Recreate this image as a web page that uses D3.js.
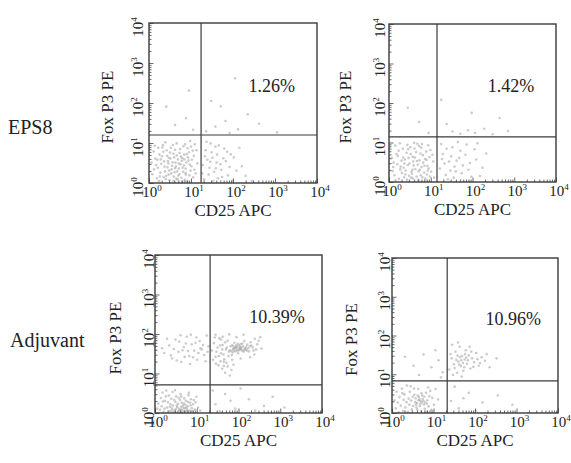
<!DOCTYPE html>
<html>
<head>
<meta charset="utf-8">
<script src="https://cdn.jsdelivr.net/npm/d3@7"></script>
<style>
  body { margin: 0; background: #fff; }
  svg { display: block; }
</style>
</head>
<body>
<div id="chart"></div>
<script>
// Data (log10 units for points, so 0.5 means 10^0.5)
const rowLabels = ["EPS8", "Adjuvant"];
const xTitle = "CD25 APC";
const yTitle = "Fox P3 PE";
const tickExponents = [0, 1, 2, 3, 4];
const percents = ["1.26%", "1.42%", "10.39%", "10.96%"];
const gateX = [1.24, 1.15, 1.32, 1.33];
const gateY = [1.2, 1.14, 0.71, 0.83];

const pointsA = [
  0.12,0.34, 0.25,0.71, 0.41,0.18, 0.56,0.52, 0.68,0.09, 0.83,0.44, 0.95,0.77, 0.33,0.95, 0.47,0.63, 0.61,0.27,
  0.74,0.85, 0.88,0.21, 1.02,0.58, 0.19,0.12, 0.29,0.48, 0.52,0.88, 0.64,0.41, 0.79,0.62, 0.91,0.05, 1.08,0.33,
  0.15,0.61, 0.38,0.29, 0.49,0.07, 0.58,0.73, 0.71,0.36, 0.86,0.97, 0.97,0.46, 1.13,0.82, 0.22,0.88, 0.36,0.54,
  0.44,0.39, 0.59,0.16, 0.69,0.59, 0.81,0.28, 0.93,0.64, 1.05,0.14, 0.08,0.22, 0.27,0.26, 0.42,0.82, 0.54,0.34,
  0.66,0.69, 0.77,0.13, 0.89,0.51, 1.00,0.91, 0.17,0.45, 0.31,0.67, 0.46,0.49, 0.57,0.95, 0.72,0.22, 0.84,0.71,
  0.99,0.31, 1.15,0.49, 0.24,0.05, 0.35,0.15, 0.51,0.61, 0.62,0.83, 0.75,0.47, 0.87,0.36, 0.96,0.19, 0.11,0.79,
  0.39,1.02, 0.53,0.24, 0.65,0.11, 0.78,0.55, 0.92,0.87, 1.07,0.68, 0.21,0.38, 0.34,0.78, 0.48,0.31, 0.63,0.51,
  0.73,0.75, 0.85,0.08, 1.01,0.42, 0.14,0.93, 0.28,0.59, 0.43,0.68, 0.55,0.43, 0.67,0.29, 0.82,0.92, 0.94,0.56,
  1.11,0.24, 0.06,0.51, 0.37,0.41, 0.60,0.64, 0.70,0.18, 0.80,0.38, 0.90,0.72, 1.04,0.81, 0.26,0.17, 0.45,0.55,
  0.58,0.05, 0.76,0.66, 0.98,1.05, 0.32,0.89, 0.50,0.76, 0.66,0.99, 0.87,0.25, 1.09,0.97, 0.20,0.58, 0.40,0.10,
  0.71,0.49, 0.84,0.59, 0.62,0.37, 0.47,0.21, 0.79,0.04,
  1.28,0.45, 1.35,0.82, 1.42,0.21, 1.51,0.63, 1.59,0.37, 1.66,0.94, 1.74,0.15, 1.83,0.55, 1.95,0.72, 2.08,0.31,
  1.31,0.09, 1.39,0.58, 1.47,0.99, 1.55,0.28, 1.62,0.71, 1.70,0.47, 1.79,0.86, 1.88,0.19, 2.02,0.64, 2.21,0.42,
  1.33,0.67, 1.44,0.38, 1.53,0.05, 1.61,0.51, 1.72,0.33, 1.86,0.78, 1.99,0.06, 2.15,0.88, 1.37,1.03, 1.49,0.77,
  1.58,0.91, 1.77,0.62, 1.92,0.40, 1.27,0.24, 1.64,0.12, 2.30,0.18, 2.45,0.05, 1.46,0.53,
  0.62,1.45, 0.88,1.62, 0.41,1.91, 1.05,1.33, 1.36,1.29, 1.58,1.41, 1.82,1.55, 2.12,1.34, 2.35,1.72, 1.71,1.92,
  2.62,1.48, 0.95,2.31, 1.48,2.05, 2.05,2.62, 3.05,1.27, 1.92,1.25
];

const pointsB = [
  0.09,0.28, 0.21,0.66, 0.36,0.12, 0.49,0.47, 0.61,0.85, 0.74,0.31, 0.86,0.58, 0.98,0.14, 0.15,0.92, 0.28,0.39,
  0.42,0.74, 0.55,0.21, 0.67,0.53, 0.79,0.96, 0.92,0.41, 1.04,0.69, 0.11,0.49, 0.24,0.08, 0.38,0.57, 0.51,0.88,
  0.63,0.33, 0.76,0.17, 0.89,0.77, 1.01,0.26, 0.18,0.71, 0.31,0.23, 0.45,0.43, 0.57,0.64, 0.70,0.06, 0.82,0.49,
  0.94,0.93, 0.07,0.61, 0.26,0.98, 0.40,0.29, 0.53,0.11, 0.65,0.76, 0.78,0.38, 0.91,0.19, 1.06,0.52, 0.13,0.17,
  0.33,0.84, 0.47,0.61, 0.59,0.42, 0.72,0.91, 0.84,0.24, 0.97,0.63, 0.20,0.45, 0.35,0.36, 0.48,0.16, 0.60,0.99,
  0.73,0.55, 0.87,0.09, 0.99,0.81, 0.16,0.04, 0.30,0.54, 0.44,0.94, 0.56,0.31, 0.69,0.44, 0.81,0.68, 0.95,0.35,
  0.23,0.79, 0.39,0.19, 0.52,0.71, 0.66,0.14, 0.77,0.87, 0.90,0.56, 1.08,0.11, 0.27,0.32, 0.43,0.06, 0.58,0.52,
  0.71,0.27, 0.85,0.41, 0.10,0.38, 0.34,0.62, 0.62,0.62, 0.80,0.12, 0.46,0.83, 0.68,0.97, 0.93,0.29, 0.54,0.26,
  0.37,0.47, 0.75,0.72, 0.57,0.09,
  1.22,0.34, 1.29,0.71, 1.36,0.18, 1.44,0.52, 1.52,0.88, 1.60,0.27, 1.68,0.61, 1.77,0.42, 1.86,0.95, 1.97,0.13,
  2.09,0.57, 2.24,0.36, 1.25,0.96, 1.33,0.47, 1.41,0.07, 1.49,0.65, 1.57,0.39, 1.65,1.01, 1.74,0.22, 1.83,0.69,
  1.94,0.48, 2.05,0.83, 2.18,0.15, 2.33,0.72, 1.38,0.84, 1.47,0.29, 1.55,0.11, 1.71,0.79, 1.90,0.31, 2.12,0.98,
  1.27,0.58, 1.62,0.54,
  1.52,1.28, 1.71,1.22, 1.89,1.31, 2.06,1.24, 2.28,1.35, 2.48,1.21, 1.38,1.47, 0.72,1.52, 0.45,1.88, 1.98,1.75,
  2.65,1.62, 1.25,2.08, 2.85,1.29, 0.95,1.24
];

const pointsC = [
  0.12,0.08, 0.24,0.31, 0.35,0.05, 0.43,0.19, 0.51,0.42, 0.58,0.11, 0.64,0.26, 0.71,0.04, 0.78,0.17, 0.86,0.35,
  0.95,0.09, 0.18,0.52, 0.29,0.14, 0.39,0.36, 0.47,0.07, 0.55,0.23, 0.61,0.48, 0.68,0.13, 0.74,0.31, 0.82,0.06,
  0.91,0.22, 1.03,0.14, 0.08,0.24, 0.21,0.03, 0.33,0.44, 0.41,0.12, 0.49,0.28, 0.56,0.05, 0.63,0.16, 0.70,0.37,
  0.77,0.09, 0.85,0.19, 0.99,0.41, 0.16,0.17, 0.27,0.57, 0.37,0.22, 0.45,0.03, 0.53,0.15, 0.60,0.33, 0.66,0.07,
  0.73,0.21, 0.80,0.45, 0.89,0.04, 0.14,0.38, 0.31,0.27, 0.42,0.53, 0.50,0.10, 0.57,0.38, 0.65,0.02, 0.72,0.12,
  0.79,0.28, 0.88,0.12, 0.97,0.27, 0.23,0.11, 0.36,0.16, 0.46,0.33, 0.54,0.02, 0.62,0.09, 0.69,0.24, 0.76,0.05,
  0.84,0.26, 1.08,0.06, 0.26,0.42, 0.40,0.06, 0.52,0.19, 0.59,0.06, 0.67,0.19, 0.75,0.14, 0.93,0.33, 0.48,0.58,
  0.81,0.51, 0.19,0.29, 0.63,0.42, 0.05,0.11,
  1.45,0.22, 1.68,0.48, 1.92,0.11, 2.25,0.35, 2.61,0.18, 1.38,0.57, 2.05,0.62, 1.55,0.05, 2.82,0.41, 3.10,0.14,
  1.81,0.31, 2.40,0.06,
  0.22,1.52, 0.34,1.71, 0.41,1.38, 0.49,1.86, 0.56,1.55, 0.63,1.29, 0.69,1.67, 0.76,1.93, 0.82,1.44, 0.88,1.74,
  0.94,1.58, 1.01,1.35, 1.07,1.82, 1.12,1.61, 1.18,1.47, 1.24,1.96, 1.28,1.69, 0.45,1.62, 0.58,1.81, 0.71,1.42,
  0.79,1.57, 0.86,1.98, 0.97,1.78, 1.04,1.52, 1.15,1.72, 1.21,1.31, 0.38,1.46, 0.52,1.33, 0.66,1.59, 0.91,1.41,
  1.09,1.64, 0.29,1.88, 0.74,1.76, 1.26,1.55, 0.61,1.97, 0.99,1.91, 0.84,1.24, 0.17,1.64,
  1.36,1.58, 1.41,1.77, 1.45,1.42, 1.50,1.66, 1.54,1.89, 1.58,1.51, 1.62,1.72, 1.66,1.36, 1.70,1.61, 1.74,1.83,
  1.77,1.55, 1.81,1.69, 1.84,1.47, 1.87,1.62, 1.90,1.78, 1.93,1.56, 1.96,1.68, 1.99,1.51, 2.02,1.64, 2.05,1.74,
  2.08,1.58, 2.11,1.69, 2.14,1.82, 2.17,1.61, 2.21,1.73, 2.25,1.56, 2.29,1.79, 2.34,1.66, 2.39,1.88, 2.45,1.74,
  2.52,1.92, 1.39,1.35, 1.47,1.55, 1.56,1.71, 1.64,1.48, 1.72,1.66, 1.79,1.59, 1.85,1.72, 1.91,1.63, 1.97,1.59,
  2.01,1.71, 2.06,1.62, 2.12,1.55, 2.18,1.67, 2.23,1.64, 2.31,1.71, 2.42,1.61, 1.43,1.91, 1.53,1.44, 1.61,1.61,
  1.68,1.79, 1.76,1.44, 1.83,1.57, 1.88,1.68, 1.94,1.71, 2.00,1.58, 2.04,1.67, 2.09,1.76, 2.15,1.63, 2.20,1.58,
  2.27,1.69, 2.36,1.58, 2.48,1.83, 1.95,1.64, 2.03,1.61, 1.89,1.58, 2.07,1.66, 1.98,1.75, 1.86,1.53, 2.13,1.59,
  1.92,1.66, 1.45,1.98, 1.62,1.93, 1.78,1.99, 1.95,1.92, 2.12,1.98, 2.28,1.41, 2.05,1.38, 1.85,1.35, 1.65,1.30,
  2.38,1.48, 2.55,1.63, 1.58,1.86,
  1.52,1.21, 1.61,1.12, 1.68,1.02, 1.74,1.18, 1.79,0.95, 1.83,1.09, 1.57,1.31, 1.71,1.27, 1.65,1.19, 1.88,1.22,
  1.46,1.25
];

const pointsD = [
  0.09,0.12, 0.18,0.41, 0.27,0.06, 0.35,0.28, 0.43,0.55, 0.51,0.18, 0.57,0.38, 0.63,0.62, 0.68,0.24, 0.73,0.45,
  0.79,0.11, 0.85,0.33, 0.92,0.57, 1.01,0.21, 0.14,0.27, 0.24,0.63, 0.32,0.14, 0.40,0.37, 0.48,0.09, 0.54,0.47,
  0.60,0.26, 0.65,0.41, 0.70,0.05, 0.76,0.31, 0.82,0.52, 0.88,0.17, 0.97,0.39, 0.11,0.55, 0.21,0.19, 0.30,0.48,
  0.38,0.03, 0.46,0.32, 0.53,0.63, 0.59,0.14, 0.66,0.35, 0.71,0.51, 0.77,0.22, 0.83,0.04, 0.90,0.43, 1.05,0.62,
  0.16,0.02, 0.28,0.34, 0.42,0.21, 0.50,0.42, 0.56,0.28, 0.62,0.45, 0.67,0.18, 0.74,0.36, 0.80,0.27, 0.87,0.66,
  0.95,0.08, 0.25,0.51, 0.45,0.69, 0.61,0.09, 0.69,0.31, 0.78,0.42, 0.58,0.21, 0.72,0.27, 0.64,0.33, 1.11,0.35,
  0.36,0.71, 0.06,0.33, 0.84,0.24,
  1.42,0.31, 1.61,0.12, 1.85,0.52, 2.18,0.27, 2.55,0.45, 1.51,0.68, 2.02,0.06, 2.90,0.21, 1.72,0.38,
  0.52,1.22, 0.76,1.51, 0.95,1.18, 1.12,1.36, 1.22,1.05, 0.65,0.98, 1.05,1.62, 0.31,1.45, 1.18,0.92,
  1.38,1.12, 1.44,1.41, 1.49,1.26, 1.53,1.58, 1.57,1.04, 1.60,1.33, 1.63,1.71, 1.66,1.21, 1.69,1.47, 1.72,1.09,
  1.75,1.38, 1.78,1.62, 1.81,1.27, 1.85,1.49, 1.89,1.15, 1.93,1.41, 1.98,1.31, 2.03,1.55, 2.09,1.22, 2.16,1.44,
  2.24,1.35, 1.41,1.52, 1.47,0.98, 1.55,1.37, 1.59,1.82, 1.64,1.44, 1.68,0.94, 1.71,1.29, 1.76,1.52, 1.83,1.36,
  1.91,1.58, 1.96,1.19, 2.06,1.39, 1.51,1.16, 1.62,1.25, 1.74,1.18, 1.87,1.71, 2.12,1.29, 1.67,1.36, 1.79,1.43,
  1.58,1.48, 2.28,1.52, 1.45,1.76, 2.35,1.18, 2.52,1.41
];

const panelPoints = [pointsA, pointsB, pointsC, pointsD];

// Layout of the four plot boxes (pixels)
const boxes = [
  { left: 149, top: 23, right: 317, bottom: 183, labelGap: 6, titleX: 107 },
  { left: 389, top: 24, right: 556, bottom: 182, labelGap: 4, titleX: 345 },
  { left: 155, top: 255, right: 322, bottom: 413, labelGap: 1, titleX: 115 },
  { left: 392, top: 258, right: 558, bottom: 413, labelGap: 2, titleX: 351 },
];
const rowLabelPos = [{ x: 8, y: 134 }, { x: 10, y: 347 }];

const width = 571;
const height = 463;
const serif = "'Liberation Serif', 'Times New Roman', Times, serif";

const svg = d3
  .select("#chart")
  .append("svg")
  .attr("width", width)
  .attr("height", height)
  .attr("font-family", serif);

svg.append("rect").attr("width", width).attr("height", height).attr("fill", "#fff");

// Row labels
svg
  .selectAll(".row-label")
  .data(rowLabels)
  .enter()
  .append("text")
  .attr("class", "row-label")
  .attr("x", (d, i) => rowLabelPos[i].x)
  .attr("y", (d, i) => rowLabelPos[i].y)
  .attr("font-family", serif)
  .attr("font-size", 20)
  .attr("fill", "#222")
  .text((d) => d);

// Minor tick values for a log axis 10^0..10^4
const minorTicks = [];
for (let e = 0; e < 4; e++) {
  for (let m = 2; m <= 9; m++) minorTicks.push(m * Math.pow(10, e));
}
const majorTicks = tickExponents.map((e) => Math.pow(10, e));

boxes.forEach((box, i) => {
  const x = d3.scaleLog().domain([1, 1e4]).range([box.left, box.right]);
  const y = d3.scaleLog().domain([1, 1e4]).range([box.bottom, box.top]);
  const g = svg.append("g").attr("font-family", serif).attr("fill", "#222");

  // Dots
  const pts = d3.range(0, panelPoints[i].length, 2).map((k) => ({
    x: Math.pow(10, panelPoints[i][k]),
    y: Math.pow(10, panelPoints[i][k + 1]),
  }));
  g.append("g")
    .selectAll("circle")
    .data(pts)
    .enter()
    .append("circle")
    .attr("cx", (d) => x(d.x))
    .attr("cy", (d) => y(d.y))
    .attr("r", 1.3)
    .attr("fill", "#a0a0a0")
    .attr("opacity", 0.55);

  // Ticks, drawn inwards
  const tickStyle = (sel) => {
    sel.select(".domain").remove();
    sel.selectAll("line").attr("stroke", "#444").attr("stroke-width", 0.8);
  };
  g.append("g")
    .attr("transform", `translate(0,${box.bottom})`)
    .call(d3.axisBottom(x).tickValues(minorTicks).tickSize(-2.5).tickFormat(""))
    .call(tickStyle);
  g.append("g")
    .attr("transform", `translate(0,${box.bottom})`)
    .call(d3.axisBottom(x).tickValues(majorTicks).tickSize(-4.5).tickFormat(""))
    .call(tickStyle);
  g.append("g")
    .attr("transform", `translate(${box.left},0)`)
    .call(d3.axisLeft(y).tickValues(minorTicks).tickSize(-2.5).tickFormat(""))
    .call(tickStyle);
  g.append("g")
    .attr("transform", `translate(${box.left},0)`)
    .call(d3.axisLeft(y).tickValues(majorTicks).tickSize(-4.5).tickFormat(""))
    .call(tickStyle);

  // Frame
  g.append("rect")
    .attr("x", box.left)
    .attr("y", box.top)
    .attr("width", box.right - box.left)
    .attr("height", box.bottom - box.top)
    .attr("fill", "none")
    .attr("stroke", "#3a3a3a")
    .attr("stroke-width", 1.4);

  // Quadrant gates
  const gx = x(Math.pow(10, gateX[i]));
  const gy = y(Math.pow(10, gateY[i]));
  g.append("line")
    .attr("x1", gx).attr("x2", gx)
    .attr("y1", box.top).attr("y2", box.bottom)
    .attr("stroke", "#3a3a3a").attr("stroke-width", 1.2);
  g.append("line")
    .attr("x1", box.left).attr("x2", box.right)
    .attr("y1", gy).attr("y2", gy)
    .attr("stroke", "#3a3a3a").attr("stroke-width", 1.2);

  // X tick labels: 10 with superscript exponent
  const xl = g
    .selectAll(".xtl")
    .data(tickExponents)
    .enter()
    .append("text")
    .attr("x", (d) => x(Math.pow(10, d)) + 3)
    .attr("y", box.bottom + 14)
    .attr("text-anchor", "middle")
    .attr("font-family", serif)
    .attr("font-size", 15);
  xl.append("tspan").text("10");
  xl.append("tspan").attr("dy", -6).attr("font-size", 9).text((d) => d);

  // Y tick labels, rotated
  const yl = g
    .selectAll(".ytl")
    .data(tickExponents)
    .enter()
    .append("text")
    .attr(
      "transform",
      (d) => `translate(${box.left - box.labelGap},${y(Math.pow(10, d)) + 4}) rotate(-90)`
    )
    .attr("text-anchor", "middle")
    .attr("font-family", serif)
    .attr("font-size", 15);
  yl.append("tspan").text("10");
  yl.append("tspan").attr("dy", -6).attr("font-size", 9).text((d) => d);

  // Axis titles
  g.append("text")
    .attr("x", (box.left + box.right) / 2)
    .attr("y", box.bottom + 33)
    .attr("text-anchor", "middle")
    .attr("font-family", serif)
    .attr("font-size", 17)
    .text(xTitle);
  g.append("text")
    .attr("transform", `translate(${box.titleX + 6},${(box.top + box.bottom) / 2 + 4}) rotate(-90)`)
    .attr("text-anchor", "middle")
    .attr("font-family", serif)
    .attr("font-size", 17)
    .text(yTitle);

  // Percentage of upper right quadrant
  g.append("text")
    .attr("x", x(Math.pow(10, 2.92)))
    .attr("y", y(Math.pow(10, 2.42)) + 6)
    .attr("text-anchor", "middle")
    .attr("font-family", serif)
    .attr("font-size", 18)
    .text(percents[i]);
});
</script>
</body>
</html>
